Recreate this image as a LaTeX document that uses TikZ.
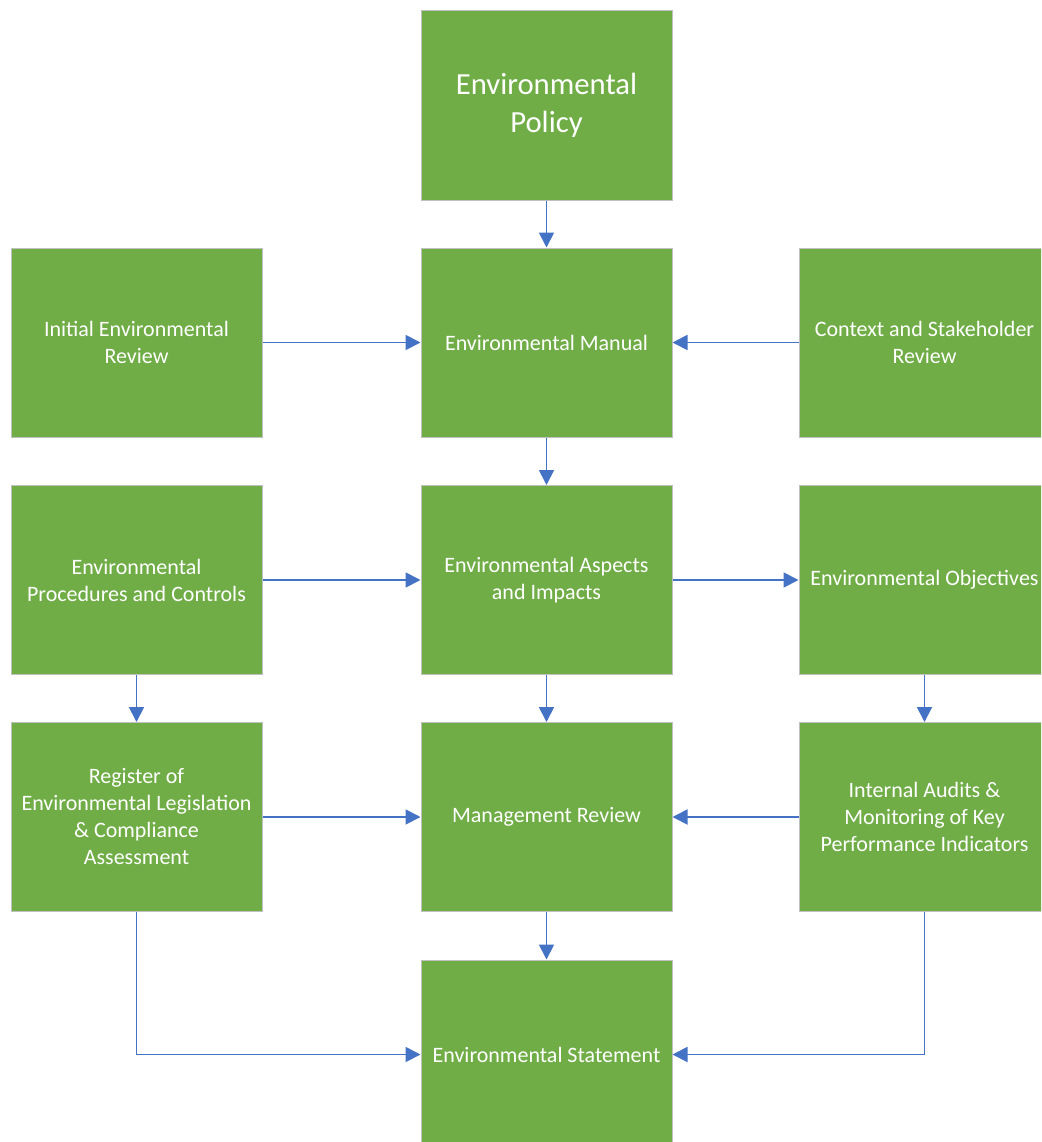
\documentclass[tikz,border=0pt]{standalone}
\usepackage{fontspec}
\setmainfont{Carlito}
\usetikzlibrary{arrows.meta}
\definecolor{boxgreen}{HTML}{70AD47}
\definecolor{boxborder}{HTML}{C0C0C0}
\definecolor{arrowblue}{HTML}{4472C4}
\begin{document}
\begin{tikzpicture}[x=1pt,y=-1pt,
  box/.style={fill=boxgreen, draw=boxborder, line width=1pt, minimum width=251pt, minimum height=189pt,
    text=white, align=center, inner sep=0pt, font=\fontsize{22}{27}\selectfont},
  bigbox/.style={box, font=\fontsize{30.7}{38}\selectfont},
  conn/.style={draw=arrowblue, line width=1.8pt, -{Triangle[length=15pt,width=15pt]}}]
\useasboundingbox (0,0) rectangle (1041,1142);
\clip (0,0) rectangle (1041,1142);
\fill[white] (0,0) rectangle (1041,1142);
\node[bigbox] (policy) at (546.5,105.5) {Environmental\\Policy};
\node[box] (manual) at (546.5,342.5) {Environmental Manual};
\node[box] (initial) at (136.5,342.5) {Initial Environmental\\Review};
\node[box] (context) at (924.5,342.5) {Context and Stakeholder\\Review};
\node[box] (proc) at (136.5,580) {Environmental\\Procedures and Controls};
\node[box] (aspects) at (546.5,580) {Environmental Aspects\\and Impacts};
\node[box] (obj) at (924.5,580) {Environmental Objectives};
\node[box] (reg) at (136.5,817) {Register of\\Environmental Legislation\\\& Compliance\\Assessment};
\node[box] (mgmt) at (546.5,817) {Management Review};
\node[box] (audits) at (924.5,817) {Internal Audits \&\\Monitoring of Key\\Performance Indicators};
\node[box] (stmt) at (546.5,1054.5) {Environmental Statement};
\coordinate (regcorner) at (reg.south |- stmt.west);
\coordinate (audcorner) at (audits.south |- stmt.east);
\draw[conn] (policy) -- (manual);
\draw[conn] (initial) -- (manual);
\draw[conn] (context) -- (manual);
\draw[conn] (manual) -- (aspects);
\draw[conn] (proc) -- (aspects);
\draw[conn] (aspects) -- (obj);
\draw[conn] (proc) -- (reg);
\draw[conn] (aspects) -- (mgmt);
\draw[conn] (obj) -- (audits);
\draw[conn] (reg) -- (mgmt);
\draw[conn] (audits) -- (mgmt);
\draw[conn] (mgmt) -- (stmt);
\draw[conn] (reg.south) -- (regcorner) -- (stmt.west);
\draw[conn] (audits.south) -- (audcorner) -- (stmt.east);
\end{tikzpicture}
\end{document}
